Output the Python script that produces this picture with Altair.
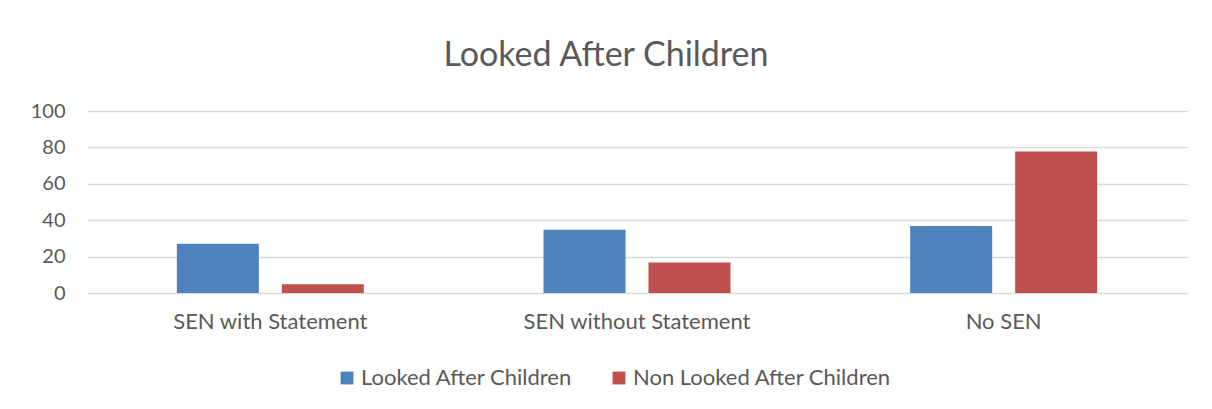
import altair as alt
import pandas as pd

categories = ["SEN with Statement", "SEN without Statement", "No SEN"]
series = ["Looked After Children", "Non Looked After Children"]
lac_values = [27.1, 34.8, 36.8]
non_lac_values = [4.8, 16.7, 77.7]
y_ticks = [0, 20, 40, 60, 80, 100]
colors = ["#4f81bd", "#c0504d"]

rows = []
for c, a, b in zip(categories, lac_values, non_lac_values):
    rows.append({"category": c, "series": series[0], "value": a})
    rows.append({"category": c, "series": series[1], "value": b})
df = pd.DataFrame(rows)

FONT = "Lato"
TXT = "#595959"

chart = alt.Chart(df).mark_bar().encode(
    x=alt.X("category:N", sort=categories,
            scale=alt.Scale(paddingInner=0.49, paddingOuter=0.245),
            axis=alt.Axis(title=None, labelAngle=0, ticks=False, domain=False,
                          labelFontSize=22, labelColor=TXT, labelFont=FONT,
                          labelPadding=18, labelLimit=500)),
    xOffset=alt.XOffset("series:N", sort=series,
                        scale=alt.Scale(paddingInner=0.219, paddingOuter=0)),
    y=alt.Y("value:Q", scale=alt.Scale(domain=[0, 100], nice=False),
            axis=alt.Axis(title=None, values=y_ticks, ticks=False, domain=False,
                          labelFontSize=20, labelColor=TXT, labelFont=FONT,
                          labelPadding=22, gridColor="#d9d9d9", gridWidth=1.5)),
    color=alt.Color("series:N", sort=series,
                    scale=alt.Scale(domain=series, range=colors),
                    legend=alt.Legend(title=None, orient="none", direction="horizontal",
                                      legendX=249, legendY=256,
                                      symbolType="square", symbolSize=165,
                                      symbolStrokeWidth=0, labelFontSize=22,
                                      labelColor=TXT, labelFont=FONT,
                                      labelLimit=500,
                                      columnPadding=35, labelOffset=3)),
).properties(
    width=1100, height=182,
    title=alt.TitleParams("Looked After Children", fontSize=34, font=FONT,
                          color=TXT, fontWeight="normal", dx=-31, offset=28),
    autosize=alt.AutoSizeParams(type="none"),
    padding={"left": 79, "top": 103, "right": 17, "bottom": 108},
).configure_view(stroke=None)

chart.save("out.html", embed_options={"renderer": "svg", "actions": False})
